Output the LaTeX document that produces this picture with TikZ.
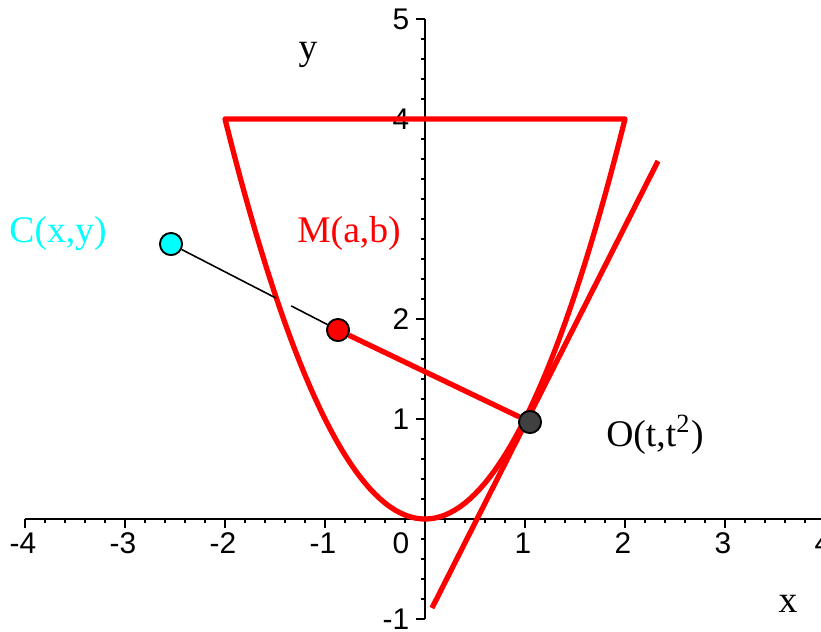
\documentclass[tikz,border=0pt]{standalone}
\usepackage{fontspec}
\setmainfont{Liberation Serif}
\newfontfamily\ticksfont{Liberation Sans}
\usetikzlibrary{calc}
\definecolor{curvered}{HTML}{FF0000}
\definecolor{pointcyan}{HTML}{00FFFF}
\definecolor{pointdark}{HTML}{404040}

\begin{document}
\begin{tikzpicture}[
    axis/.style={black, line width=0.6pt},
    ticklabel/.style={font=\ticksfont\fontsize{8.5}{9}\selectfont, inner sep=0pt},
    curve/.style={curvered, line width=1.5pt, line join=round},
    dot/.style={circle, draw=black, line width=0.5pt, inner sep=0pt,
                minimum size=0.22cm},
    tag/.style={font=\fontsize{10.7}{12}\selectfont, inner sep=0pt}]
  \useasboundingbox (-4.25,-1.12) rectangle (3.96,5.19);

  % axes
  \draw[axis] (-4,0) -- (4,0);
  \draw[axis] (0,-1) -- (0,5);
  \foreach \i in {-20,...,20}
    \draw[axis] (\i/5,0) -- (\i/5,-0.04);
  \foreach \i in {-4,...,4}
    \draw[axis] (\i,0) -- (\i,-0.09);
  \foreach \i in {-5,...,25}
    \draw[axis] (0,\i/5) -- (-0.04,\i/5);
  \foreach \i in {-1,1,2,4,5}
    \draw[axis] (0,\i) -- (-0.09,\i);
  \foreach \i in {-4,-3,-2,-1,1,2,3,4}
    \node[ticklabel] (xl\i) at (\i-0.02,-0.24) {\i};
  \node[ticklabel] (xl0) at (-0.24,-0.24) {0};
  \foreach \i in {-1,1,2,4,5}
    \node[ticklabel, anchor=east] (yl\i) at (-0.15,\i) {\i};
  \node[tag] (xname) at (3.63,-0.85) {x};
  \node[tag] (yname) at (-1.17,4.64) {y};

  % bowl and tangent
  \draw[curve] (-2,4) -- (2,4) -- plot[domain=2:-2, samples=81] (\x,{\x*\x}) -- cycle;
  \coordinate (tanlow) at (0.07,-0.89);
  \coordinate (tanhigh) at (2.33,3.58);
  \draw[curve] (tanlow) -- (tanhigh);

  % points
  \node[dot, fill=pointcyan] (C) at (-2.54,2.75) {};
  \node[dot, fill=curvered] (M) at (-0.87,1.89) {};
  \node[dot, fill=pointdark] (O) at (1.05,0.97) {};
  \draw[curve] (O) -- (M);
  \draw[black, line width=0.45pt] (C) -- ($(C)!0.63!(M)$);
  \draw[black, line width=0.45pt] ($(C)!0.72!(M)$) -- (M);
  \node[dot, fill=pointcyan] at (C) {};
  \node[dot, fill=curvered] at (M) {};
  \node[dot, fill=pointdark] at (O) {};

  \node[tag, pointcyan] (Cname) at (-3.67,2.86) {C(x,y)};
  \node[tag, curvered] (Mname) at (-0.76,2.86) {M(a,b)};
  \node[tag] (Oname) at (2.30,0.84) {O(t,t\textsuperscript{2})};
\end{tikzpicture}
\end{document}
